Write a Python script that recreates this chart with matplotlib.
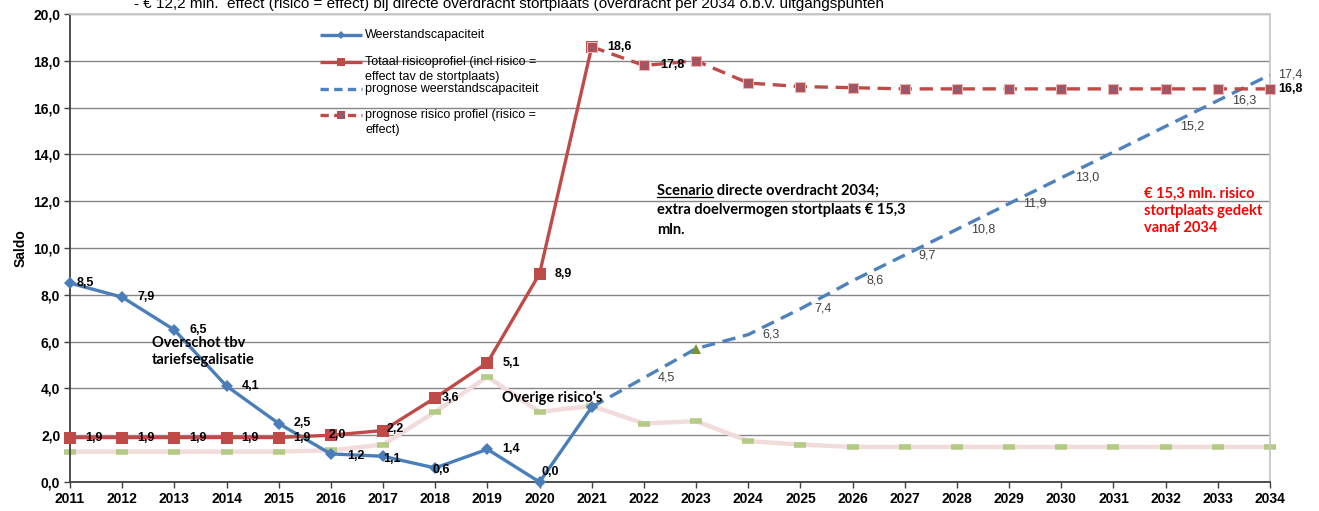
import matplotlib

matplotlib.use("Agg")
import matplotlib.pyplot as plt
from matplotlib.lines import Line2D

# ---- data -------------------------------------------------------------
years_hist = list(range(2011, 2022))
weerstand = [8.5, 7.9, 6.5, 4.1, 2.5, 1.2, 1.1, 0.6, 1.4, 0.0, 3.2]
weerstand_lbl = ["8,5", "7,9", "6,5", "4,1", "2,5", "1,2", "1,1", "0,6", "1,4", "0,0", None]

years_risk = list(range(2011, 2022))
risico = [1.9, 1.9, 1.9, 1.9, 1.9, 2.0, 2.2, 3.6, 5.1, 8.9, 18.6]
risico_lbl = ["1,9", "1,9", "1,9", "1,9", "1,9", "2,0", "2,2", "3,6", "5,1", "8,9", None]

years_prog = list(range(2021, 2035))
prog_weerstand = [3.2, 4.45, 5.7, 6.3, 7.4, 8.6, 9.7, 10.8, 11.9, 13.0, 14.1, 15.2, 16.3, 17.4]
prog_weerstand_lbl = [None, "4,5", None, "6,3", "7,4", "8,6", "9,7", "10,8", "11,9", "13,0",
                      None, "15,2", "16,3", "17,4"]

prog_risico = [18.6, 17.8, 18.0, 17.05, 16.9, 16.85, 16.8, 16.8, 16.8, 16.8, 16.8, 16.8, 16.8, 16.8]
prog_risico_lbl = ["18,6", "17,8", None, None, None, None, None, None, None, None,
                   None, None, None, "16,8"]

years_all = list(range(2011, 2035))
overige = [1.3, 1.3, 1.3, 1.3, 1.3, 1.35, 1.6, 3.0, 4.5, 3.0, 3.25, 2.5, 2.6, 1.75,
           1.6, 1.5, 1.5, 1.5, 1.5, 1.5, 1.5, 1.5, 1.5, 1.5]

yticks = [0, 2, 4, 6, 8, 10, 12, 14, 16, 18, 20]

title = ("- \u20ac 12,2 mln.  effect (risico = effect) bij directe overdracht stortplaats "
         "(overdracht per 2034 o.b.v. uitgangspunten")

# ---- style ------------------------------------------------------------
BLUE = "#4A7EBB"
BLUE_D = "#4F81BD"
RED = "#BE4B48"
PINK = "#F2DCDB"
GREEN = "#B3CB85"
GRID = "#868686"
ARIAL = "Liberation Sans"
CALIBRI = "Lato"

W, H = 1319, 511
L, R, T, B = 70, 1270, 14, 482

fig = plt.figure(figsize=(W / 100, H / 100), dpi=100)
ax = fig.add_axes([L / W, 1 - B / H, (R - L) / W, (B - T) / H])

ax.set_xlim(2011, 2034)
ax.set_ylim(0, 20)
ax.set_yticks(yticks)
ax.set_yticklabels([f"{v:.1f}".replace(".", ",") for v in yticks])
ax.set_xticks(years_all)
ax.set_xticklabels([str(y) for y in years_all])
for lab in ax.get_xticklabels() + ax.get_yticklabels():
    lab.set_fontfamily(ARIAL)
    lab.set_fontweight("bold")
    lab.set_fontsize(10)
ax.tick_params(axis="both", direction="out", length=4, width=1, color="#404040", pad=3)
ax.grid(axis="y", color=GRID, lw=1)
ax.set_axisbelow(True)
for s in ("left", "bottom"):
    ax.spines[s].set_color("#404040")
    ax.spines[s].set_linewidth(1.3)
for s in ("top", "right"):
    ax.spines[s].set_color("#C8C8C8")
    ax.spines[s].set_linewidth(1.3)
ax.set_ylabel("Saldo", fontfamily=ARIAL, fontweight="bold", fontsize=10, labelpad=4)

dash = (4, 2.3)

# overige risico's
ax.plot(years_all, overige, color=PINK, lw=3.2, zorder=2, clip_on=False,
        marker="_", ms=9, mew=4, mec=GREEN)

# weerstandscapaciteit
ax.plot(years_hist, weerstand, color=BLUE, lw=2.4, zorder=4, clip_on=False,
        marker="D", ms=6, mew=0, mfc=BLUE)
# prognose weerstandscapaciteit
ax.plot(years_prog, prog_weerstand, color=BLUE_D, lw=2.4, zorder=3, clip_on=False,
        dashes=dash)
ax.plot(years_prog[2], prog_weerstand[2], marker="^", ms=6.5, color="#77933C", mew=0, zorder=5)

# totaal risicoprofiel
ax.plot(years_risk, risico, color=RED, lw=2.4, zorder=4, clip_on=False,
        marker="s", ms=8.5, mew=0, mfc=RED)
# prognose risico profiel
ax.plot(years_prog, prog_risico, color=RED, lw=2.4, zorder=4, clip_on=False,
        dashes=dash, marker="s", ms=7.5, mfc=RED, mec="#E6B9B8", mew=0.8)
ax.plot(years_prog, prog_risico, ls="none", marker="x", ms=6, mew=0.6, color="#5F6FA8",
        zorder=5, clip_on=False)

# ---- data labels (offsets in pixels) -----------------------------------
def labels(xs, ys, texts, bold=True, color="black", dx=15, overrides=None):
    overrides = overrides or {}
    for i, (x, y, t) in enumerate(zip(xs, ys, texts)):
        if t is None:
            continue
        ox, oy = overrides.get(i, (dx, 0))
        ax.annotate(t, (x, y), xytext=(ox, oy), textcoords="offset pixels",
                    ha="left", va="center", fontsize=9, fontfamily=ARIAL,
                    fontweight="bold" if bold else "normal", color=color,
                    zorder=6, annotation_clip=False)


labels(years_hist, weerstand, weerstand_lbl,
       overrides={0: (7, 0), 5: (16, -2), 6: (0, -3), 7: (-3, -2), 9: (2, 10)})
labels(years_risk, risico, risico_lbl,
       overrides={5: (-2, 0), 6: (4, 2), 7: (7, 0)})
labels(years_prog, prog_weerstand, prog_weerstand_lbl, bold=False, color="#404040",
       dx=14, overrides={13: (8, 0)})
labels(years_prog, prog_risico, prog_risico_lbl, dx=16, overrides={13: (8, 0)})

# ---- annotations ------------------------------------------------------
ax.text(2012.57, 6.22, "Overschot tbv\ntariefsegalisatie", fontfamily=CALIBRI,
        fontweight="bold", fontsize=10.5, va="top", ha="left", linespacing=1.25, zorder=7)
ax.text(2019.28, 3.6, "Overige risico's", fontfamily=CALIBRI, fontweight="bold",
        fontsize=10.5, va="center", ha="left", zorder=7)
ax.text(2031.59, 12.62, "\u20ac 15,3 mln. risico\nstortplaats gedekt\nvanaf 2034",
        fontfamily=CALIBRI, fontweight="bold", fontsize=10.5, va="top", ha="left",
        color="#FF0000", linespacing=1.3, zorder=7)

scen_lines = ["Scenario directe overdracht 2034;",
              "extra doelvermogen stortplaats \u20ac 15,3", "mln."]
sx = 2011 + (657 - L) / ((R - L) / 23)
for k, line in enumerate(scen_lines):
    yv = (B - (195 + 19.5 * k)) / ((B - T) / 20)
    ax.text(sx, yv, line, fontfamily=CALIBRI, fontweight="bold", fontsize=10.5,
            va="baseline", ha="left", zorder=7)
fig.canvas.draw()
tmp = ax.text(sx, 0, "Scenario", fontfamily=CALIBRI, fontweight="bold", fontsize=10.5)
bb = tmp.get_window_extent(fig.canvas.get_renderer())
tmp.remove()
uy = 1 - 197 / H
fig.add_artist(Line2D([bb.x0 / W, bb.x1 / W], [uy, uy], color="black", lw=0.9))

# ---- legend (drawn by hand, Excel-like layout) -------------------------
def px(x, y):
    return (x - L) / (R - L), (B - y) / (B - T)


def legend_row(y, text_lines, **line_kw):
    x0, yy = px(320, y)
    x1, _ = px(362, y)
    ax.add_line(Line2D([x0, x1], [yy, yy], transform=ax.transAxes, lw=2.4,
                       solid_capstyle="butt", dash_capstyle="butt", clip_on=False,
                       zorder=6, **line_kw))
    for j, t in enumerate(text_lines):
        tx, ty = px(365, y + 15 * j)
        ax.text(tx, ty, t, transform=ax.transAxes, fontfamily=ARIAL, fontsize=9,
                va="center", ha="left", zorder=6)


legend_row(35, ["Weerstandscapaciteit"], color=BLUE)
ax.plot(*px(341, 35), transform=ax.transAxes, marker="D", ms=4, color=BLUE, mew=0,
        zorder=7, clip_on=False)
legend_row(62, ["Totaal risicoprofiel (incl risico =", "effect tav de stortplaats)"], color=RED)
ax.plot(*px(341, 62), transform=ax.transAxes, marker="s", ms=6, color=RED, mew=0,
        zorder=7, clip_on=False)
legend_row(89, ["prognose weerstandscapaciteit"], color=BLUE_D, dashes=(2.5, 1.6))
legend_row(115, ["prognose risico profiel (risico =", "effect)"], color=RED, dashes=(2.5, 1.6))
ax.plot(*px(341, 115), transform=ax.transAxes, marker="s", ms=6, color=RED, mew=0,
        zorder=7, clip_on=False)
ax.plot(*px(341, 115), transform=ax.transAxes, marker="x", ms=5, color="#5F6FA8", mew=0.6,
        zorder=8, clip_on=False)

# ---- cut-off title at the very top (clipped in the original too) -----------
fig.text(134 / W, 1 - 8 / H, title, fontfamily=ARIAL, fontsize=11, va="baseline", ha="left")

fig.savefig("out.png", dpi=100)
